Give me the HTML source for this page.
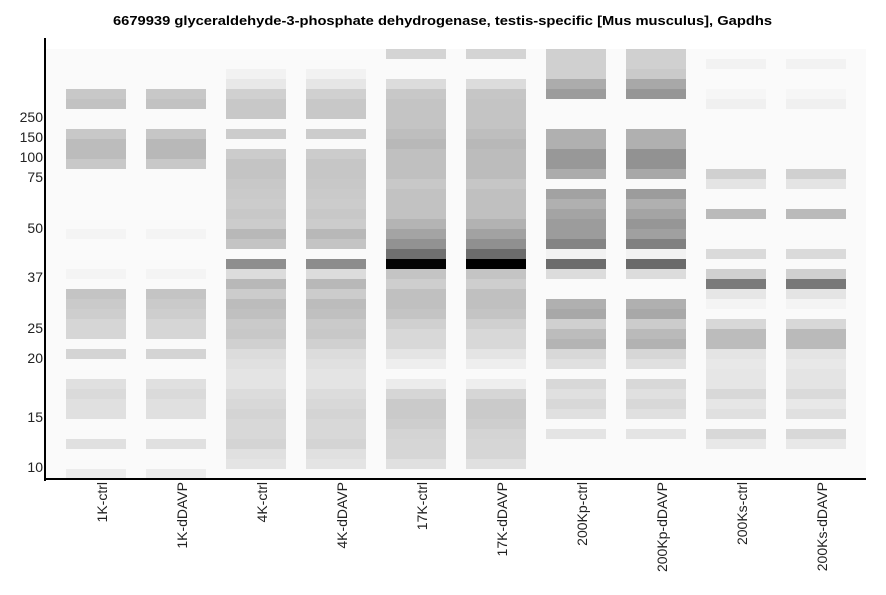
<!DOCTYPE html>
<html>
<head>
<meta charset="utf-8">
<style>
html,body{margin:0;padding:0;background:#fff;}
svg{display:block;}
text{font-family:"Liberation Sans",Arial,sans-serif;}
</style>
</head>
<body>
<svg width="886" height="595" viewBox="0 0 886 595" xmlns="http://www.w3.org/2000/svg">
<rect x="0" y="0" width="886" height="595" fill="#ffffff"/>
<text x="442.5" y="25" text-anchor="middle" font-size="13" font-weight="bold" fill="#000" textLength="659" lengthAdjust="spacingAndGlyphs">6679939 glyceraldehyde-3-phosphate dehydrogenase, testis-specific [Mus musculus], Gapdhs</text>
<rect x="46" y="49" width="820" height="430" fill="#fafafa"/>

<!-- Lane 1: 1K-ctrl -->
<g transform="translate(66,0)">
<rect y="89" width="60" height="10" fill="#c8c8c8"/>
<rect y="99" width="60" height="10" fill="#c2c2c2"/>
<rect y="129" width="60" height="10" fill="#c8c8c8"/>
<rect y="139" width="60" height="20" fill="#bcbcbc"/>
<rect y="159" width="60" height="10" fill="#c8c8c8"/>
<rect y="229" width="60" height="10" fill="#f4f4f4"/>
<rect y="269" width="60" height="10" fill="#f4f4f4"/>
<rect y="289" width="60" height="10" fill="#c4c4c4"/>
<rect y="299" width="60" height="10" fill="#cacaca"/>
<rect y="309" width="60" height="10" fill="#cecece"/>
<rect y="319" width="60" height="20" fill="#d6d6d6"/>
<rect y="349" width="60" height="10" fill="#d4d4d4"/>
<rect y="379" width="60" height="10" fill="#e0e0e0"/>
<rect y="389" width="60" height="10" fill="#dadada"/>
<rect y="399" width="60" height="20" fill="#e0e0e0"/>
<rect y="439" width="60" height="10" fill="#e0e0e0"/>
<rect y="469" width="60" height="10" fill="#ececec"/>
</g>
<!-- Lane 2: 1K-dDAVP -->
<g transform="translate(146,0)">
<rect y="89" width="60" height="10" fill="#c8c8c8"/>
<rect y="99" width="60" height="10" fill="#c2c2c2"/>
<rect y="129" width="60" height="10" fill="#c6c6c6"/>
<rect y="139" width="60" height="20" fill="#b8b8b8"/>
<rect y="159" width="60" height="10" fill="#c8c8c8"/>
<rect y="229" width="60" height="10" fill="#f4f4f4"/>
<rect y="269" width="60" height="10" fill="#f4f4f4"/>
<rect y="289" width="60" height="10" fill="#c4c4c4"/>
<rect y="299" width="60" height="10" fill="#cacaca"/>
<rect y="309" width="60" height="10" fill="#cecece"/>
<rect y="319" width="60" height="20" fill="#d6d6d6"/>
<rect y="349" width="60" height="10" fill="#d4d4d4"/>
<rect y="379" width="60" height="10" fill="#e0e0e0"/>
<rect y="389" width="60" height="10" fill="#dadada"/>
<rect y="399" width="60" height="20" fill="#e0e0e0"/>
<rect y="439" width="60" height="10" fill="#e0e0e0"/>
<rect y="469" width="60" height="10" fill="#ececec"/>
</g>

<!-- Lane 3: 4K-ctrl -->
<g transform="translate(226,0)">
<rect y="69" width="60" height="10" fill="#f2f2f2"/>
<rect y="79" width="60" height="10" fill="#e8e8e8"/>
<rect y="89" width="60" height="10" fill="#d0d0d0"/>
<rect y="99" width="60" height="20" fill="#c8c8c8"/>
<rect y="129" width="60" height="10" fill="#cccccc"/>
<rect y="149" width="60" height="10" fill="#cccccc"/>
<rect y="159" width="60" height="20" fill="#c4c4c4"/>
<rect y="179" width="60" height="10" fill="#c8c8c8"/>
<rect y="189" width="60" height="10" fill="#cacaca"/>
<rect y="199" width="60" height="10" fill="#cccccc"/>
<rect y="209" width="60" height="10" fill="#c8c8c8"/>
<rect y="219" width="60" height="10" fill="#cccccc"/>
<rect y="229" width="60" height="10" fill="#b8b8b8"/>
<rect y="239" width="60" height="10" fill="#c4c4c4"/>
<rect y="259" width="60" height="10" fill="#8e8e8e"/>
<rect y="269" width="60" height="10" fill="#dcdcdc"/>
<rect y="279" width="60" height="10" fill="#b8b8b8"/>
<rect y="289" width="60" height="10" fill="#cccccc"/>
<rect y="299" width="60" height="10" fill="#bcbcbc"/>
<rect y="309" width="60" height="10" fill="#c0c0c0"/>
<rect y="319" width="60" height="10" fill="#cacaca"/>
<rect y="329" width="60" height="10" fill="#c8c8c8"/>
<rect y="339" width="60" height="10" fill="#d0d0d0"/>
<rect y="349" width="60" height="10" fill="#dcdcdc"/>
<rect y="359" width="60" height="10" fill="#e0e0e0"/>
<rect y="369" width="60" height="20" fill="#e4e4e4"/>
<rect y="389" width="60" height="10" fill="#dcdcdc"/>
<rect y="399" width="60" height="10" fill="#d8d8d8"/>
<rect y="409" width="60" height="10" fill="#d4d4d4"/>
<rect y="419" width="60" height="20" fill="#d8d8d8"/>
<rect y="439" width="60" height="10" fill="#d4d4d4"/>
<rect y="449" width="60" height="10" fill="#e0e0e0"/>
<rect y="459" width="60" height="10" fill="#e4e4e4"/>
</g>
<!-- Lane 4: 4K-dDAVP -->
<g transform="translate(306,0)">
<rect y="69" width="60" height="10" fill="#f2f2f2"/>
<rect y="79" width="60" height="10" fill="#e6e6e6"/>
<rect y="89" width="60" height="10" fill="#d0d0d0"/>
<rect y="99" width="60" height="20" fill="#c8c8c8"/>
<rect y="129" width="60" height="10" fill="#cccccc"/>
<rect y="149" width="60" height="10" fill="#cccccc"/>
<rect y="159" width="60" height="20" fill="#c6c6c6"/>
<rect y="179" width="60" height="10" fill="#c8c8c8"/>
<rect y="189" width="60" height="10" fill="#cacaca"/>
<rect y="199" width="60" height="10" fill="#cccccc"/>
<rect y="209" width="60" height="10" fill="#c8c8c8"/>
<rect y="219" width="60" height="10" fill="#cccccc"/>
<rect y="229" width="60" height="10" fill="#b8b8b8"/>
<rect y="239" width="60" height="10" fill="#c4c4c4"/>
<rect y="259" width="60" height="10" fill="#8c8c8c"/>
<rect y="269" width="60" height="10" fill="#dcdcdc"/>
<rect y="279" width="60" height="10" fill="#b8b8b8"/>
<rect y="289" width="60" height="10" fill="#cccccc"/>
<rect y="299" width="60" height="10" fill="#bcbcbc"/>
<rect y="309" width="60" height="10" fill="#c0c0c0"/>
<rect y="319" width="60" height="10" fill="#cacaca"/>
<rect y="329" width="60" height="10" fill="#c8c8c8"/>
<rect y="339" width="60" height="10" fill="#d0d0d0"/>
<rect y="349" width="60" height="10" fill="#dcdcdc"/>
<rect y="359" width="60" height="10" fill="#e0e0e0"/>
<rect y="369" width="60" height="20" fill="#e4e4e4"/>
<rect y="389" width="60" height="10" fill="#dcdcdc"/>
<rect y="399" width="60" height="10" fill="#d8d8d8"/>
<rect y="409" width="60" height="10" fill="#d4d4d4"/>
<rect y="419" width="60" height="20" fill="#d8d8d8"/>
<rect y="439" width="60" height="10" fill="#d4d4d4"/>
<rect y="449" width="60" height="10" fill="#e0e0e0"/>
<rect y="459" width="60" height="10" fill="#e4e4e4"/>
</g>

<!-- Lane 5: 17K-ctrl -->
<g transform="translate(386,0)">
<rect y="49" width="60" height="10" fill="#d4d4d4"/>
<rect y="79" width="60" height="10" fill="#dcdcdc"/>
<rect y="89" width="60" height="10" fill="#c8c8c8"/>
<rect y="99" width="60" height="30" fill="#c4c4c4"/>
<rect y="129" width="60" height="10" fill="#bebebe"/>
<rect y="139" width="60" height="10" fill="#b8b8b8"/>
<rect y="149" width="60" height="30" fill="#c0c0c0"/>
<rect y="179" width="60" height="10" fill="#c8c8c8"/>
<rect y="189" width="60" height="30" fill="#c2c2c2"/>
<rect y="219" width="60" height="10" fill="#b4b4b4"/>
<rect y="229" width="60" height="10" fill="#a4a4a4"/>
<rect y="239" width="60" height="10" fill="#929292"/>
<rect y="249" width="60" height="10" fill="#707070"/>
<rect y="259" width="60" height="10" fill="#040404"/>
<rect y="269" width="60" height="10" fill="#c4c4c4"/>
<rect y="279" width="60" height="10" fill="#cecece"/>
<rect y="289" width="60" height="20" fill="#c0c0c0"/>
<rect y="309" width="60" height="10" fill="#c4c4c4"/>
<rect y="319" width="60" height="10" fill="#d0d0d0"/>
<rect y="329" width="60" height="20" fill="#d8d8d8"/>
<rect y="349" width="60" height="10" fill="#e4e4e4"/>
<rect y="359" width="60" height="10" fill="#eeeeee"/>
<rect y="379" width="60" height="10" fill="#ececec"/>
<rect y="389" width="60" height="10" fill="#d6d6d6"/>
<rect y="399" width="60" height="20" fill="#cacaca"/>
<rect y="419" width="60" height="10" fill="#cecece"/>
<rect y="429" width="60" height="10" fill="#d4d4d4"/>
<rect y="439" width="60" height="20" fill="#d6d6d6"/>
<rect y="459" width="60" height="10" fill="#e0e0e0"/>
</g>
<!-- Lane 6: 17K-dDAVP -->
<g transform="translate(466,0)">
<rect y="49" width="60" height="10" fill="#d4d4d4"/>
<rect y="79" width="60" height="10" fill="#dcdcdc"/>
<rect y="89" width="60" height="10" fill="#c6c6c6"/>
<rect y="99" width="60" height="30" fill="#c4c4c4"/>
<rect y="129" width="60" height="10" fill="#bebebe"/>
<rect y="139" width="60" height="10" fill="#b8b8b8"/>
<rect y="149" width="60" height="30" fill="#bcbcbc"/>
<rect y="179" width="60" height="10" fill="#c6c6c6"/>
<rect y="189" width="60" height="30" fill="#c0c0c0"/>
<rect y="219" width="60" height="10" fill="#b2b2b2"/>
<rect y="229" width="60" height="10" fill="#a2a2a2"/>
<rect y="239" width="60" height="10" fill="#909090"/>
<rect y="249" width="60" height="10" fill="#6c6c6c"/>
<rect y="259" width="60" height="10" fill="#000000"/>
<rect y="269" width="60" height="10" fill="#c4c4c4"/>
<rect y="279" width="60" height="10" fill="#cecece"/>
<rect y="289" width="60" height="20" fill="#c0c0c0"/>
<rect y="309" width="60" height="10" fill="#c4c4c4"/>
<rect y="319" width="60" height="10" fill="#d0d0d0"/>
<rect y="329" width="60" height="20" fill="#d8d8d8"/>
<rect y="349" width="60" height="10" fill="#e4e4e4"/>
<rect y="359" width="60" height="10" fill="#eeeeee"/>
<rect y="379" width="60" height="10" fill="#eeeeee"/>
<rect y="389" width="60" height="10" fill="#d6d6d6"/>
<rect y="399" width="60" height="20" fill="#cacaca"/>
<rect y="419" width="60" height="10" fill="#cecece"/>
<rect y="429" width="60" height="10" fill="#d4d4d4"/>
<rect y="439" width="60" height="20" fill="#d6d6d6"/>
<rect y="459" width="60" height="10" fill="#e0e0e0"/>
</g>

<!-- Lane 7: 200Kp-ctrl -->
<g transform="translate(546,0)">
<rect y="49" width="60" height="30" fill="#d0d0d0"/>
<rect y="79" width="60" height="10" fill="#acacac"/>
<rect y="89" width="60" height="10" fill="#9c9c9c"/>
<rect y="129" width="60" height="20" fill="#b0b0b0"/>
<rect y="149" width="60" height="20" fill="#989898"/>
<rect y="169" width="60" height="10" fill="#acacac"/>
<rect y="189" width="60" height="10" fill="#a2a2a2"/>
<rect y="199" width="60" height="10" fill="#b0b0b0"/>
<rect y="209" width="60" height="10" fill="#a4a4a4"/>
<rect y="219" width="60" height="20" fill="#9c9c9c"/>
<rect y="239" width="60" height="10" fill="#848484"/>
<rect y="249" width="60" height="10" fill="#f2f2f2"/>
<rect y="259" width="60" height="10" fill="#6c6c6c"/>
<rect y="269" width="60" height="10" fill="#dcdcdc"/>
<rect y="299" width="60" height="10" fill="#b0b0b0"/>
<rect y="309" width="60" height="10" fill="#a8a8a8"/>
<rect y="319" width="60" height="10" fill="#d0d0d0"/>
<rect y="329" width="60" height="10" fill="#bcbcbc"/>
<rect y="339" width="60" height="10" fill="#b4b4b4"/>
<rect y="349" width="60" height="10" fill="#d8d8d8"/>
<rect y="359" width="60" height="10" fill="#e0e0e0"/>
<rect y="379" width="60" height="10" fill="#d8d8d8"/>
<rect y="389" width="60" height="10" fill="#e0e0e0"/>
<rect y="399" width="60" height="10" fill="#d8d8d8"/>
<rect y="409" width="60" height="10" fill="#e0e0e0"/>
<rect y="429" width="60" height="10" fill="#e4e4e4"/>
</g>
<!-- Lane 8: 200Kp-dDAVP -->
<g transform="translate(626,0)">
<rect y="49" width="60" height="20" fill="#d0d0d0"/>
<rect y="69" width="60" height="10" fill="#cacaca"/>
<rect y="79" width="60" height="10" fill="#a8a8a8"/>
<rect y="89" width="60" height="10" fill="#969696"/>
<rect y="129" width="60" height="20" fill="#b0b0b0"/>
<rect y="149" width="60" height="20" fill="#929292"/>
<rect y="169" width="60" height="10" fill="#a8a8a8"/>
<rect y="189" width="60" height="10" fill="#9c9c9c"/>
<rect y="199" width="60" height="10" fill="#b0b0b0"/>
<rect y="209" width="60" height="10" fill="#a4a4a4"/>
<rect y="219" width="60" height="10" fill="#969696"/>
<rect y="229" width="60" height="10" fill="#a0a0a0"/>
<rect y="239" width="60" height="10" fill="#808080"/>
<rect y="249" width="60" height="10" fill="#f2f2f2"/>
<rect y="259" width="60" height="10" fill="#6a6a6a"/>
<rect y="269" width="60" height="10" fill="#dcdcdc"/>
<rect y="299" width="60" height="10" fill="#b0b0b0"/>
<rect y="309" width="60" height="10" fill="#a8a8a8"/>
<rect y="319" width="60" height="10" fill="#cccccc"/>
<rect y="329" width="60" height="10" fill="#bababa"/>
<rect y="339" width="60" height="10" fill="#b2b2b2"/>
<rect y="349" width="60" height="10" fill="#d6d6d6"/>
<rect y="359" width="60" height="10" fill="#e0e0e0"/>
<rect y="379" width="60" height="10" fill="#d8d8d8"/>
<rect y="389" width="60" height="10" fill="#e0e0e0"/>
<rect y="399" width="60" height="10" fill="#d8d8d8"/>
<rect y="409" width="60" height="10" fill="#e0e0e0"/>
<rect y="429" width="60" height="10" fill="#e4e4e4"/>
</g>

<!-- Lane 9: 200Ks-ctrl -->
<g transform="translate(706,0)">
<rect y="59" width="60" height="10" fill="#f2f2f2"/>
<rect y="89" width="60" height="10" fill="#f6f6f6"/>
<rect y="99" width="60" height="10" fill="#f0f0f0"/>
<rect y="169" width="60" height="10" fill="#d0d0d0"/>
<rect y="179" width="60" height="10" fill="#e4e4e4"/>
<rect y="209" width="60" height="10" fill="#bababa"/>
<rect y="249" width="60" height="10" fill="#dadada"/>
<rect y="269" width="60" height="10" fill="#d0d0d0"/>
<rect y="279" width="60" height="10" fill="#7a7a7a"/>
<rect y="289" width="60" height="10" fill="#e6e6e6"/>
<rect y="299" width="60" height="10" fill="#f4f4f4"/>
<rect y="319" width="60" height="10" fill="#d8d8d8"/>
<rect y="329" width="60" height="20" fill="#bcbcbc"/>
<rect y="349" width="60" height="10" fill="#e4e4e4"/>
<rect y="359" width="60" height="10" fill="#e8e8e8"/>
<rect y="369" width="60" height="20" fill="#e6e6e6"/>
<rect y="389" width="60" height="10" fill="#d8d8d8"/>
<rect y="399" width="60" height="10" fill="#e6e6e6"/>
<rect y="409" width="60" height="10" fill="#e0e0e0"/>
<rect y="429" width="60" height="10" fill="#d8d8d8"/>
<rect y="439" width="60" height="10" fill="#e8e8e8"/>
</g>
<!-- Lane 10: 200Ks-dDAVP -->
<g transform="translate(786,0)">
<rect y="59" width="60" height="10" fill="#f2f2f2"/>
<rect y="89" width="60" height="10" fill="#f6f6f6"/>
<rect y="99" width="60" height="10" fill="#f0f0f0"/>
<rect y="169" width="60" height="10" fill="#d0d0d0"/>
<rect y="179" width="60" height="10" fill="#e4e4e4"/>
<rect y="209" width="60" height="10" fill="#bababa"/>
<rect y="249" width="60" height="10" fill="#dadada"/>
<rect y="269" width="60" height="10" fill="#d0d0d0"/>
<rect y="279" width="60" height="10" fill="#787878"/>
<rect y="289" width="60" height="10" fill="#e4e4e4"/>
<rect y="299" width="60" height="10" fill="#f4f4f4"/>
<rect y="319" width="60" height="10" fill="#d8d8d8"/>
<rect y="329" width="60" height="20" fill="#bababa"/>
<rect y="349" width="60" height="10" fill="#e4e4e4"/>
<rect y="359" width="60" height="10" fill="#e8e8e8"/>
<rect y="369" width="60" height="20" fill="#e4e4e4"/>
<rect y="389" width="60" height="10" fill="#dadada"/>
<rect y="399" width="60" height="10" fill="#e8e8e8"/>
<rect y="409" width="60" height="10" fill="#e0e0e0"/>
<rect y="429" width="60" height="10" fill="#d8d8d8"/>
<rect y="439" width="60" height="10" fill="#e8e8e8"/>
</g>

<!-- Axes -->
<rect x="44" y="38" width="2" height="443" fill="#000"/>
<rect x="44" y="478" width="822" height="2" fill="#000"/>

<!-- Y tick labels -->
<g font-size="14" fill="#222" text-anchor="end">
<text x="43" y="122">250</text>
<text x="43" y="142">150</text>
<text x="43" y="162">100</text>
<text x="43" y="182">75</text>
<text x="43" y="233">50</text>
<text x="43" y="282">37</text>
<text x="43" y="333">25</text>
<text x="43" y="363">20</text>
<text x="43" y="422">15</text>
<text x="43" y="472">10</text>
</g>

<!-- X labels -->
<g font-size="14" fill="#222" text-anchor="end">
<text transform="translate(107,482) rotate(-90)">1K-ctrl</text>
<text transform="translate(187,482) rotate(-90)">1K-dDAVP</text>
<text transform="translate(267,482) rotate(-90)">4K-ctrl</text>
<text transform="translate(347,482) rotate(-90)">4K-dDAVP</text>
<text transform="translate(427,482) rotate(-90)">17K-ctrl</text>
<text transform="translate(507,482) rotate(-90)">17K-dDAVP</text>
<text transform="translate(587,482) rotate(-90)">200Kp-ctrl</text>
<text transform="translate(667,482) rotate(-90)">200Kp-dDAVP</text>
<text transform="translate(747,482) rotate(-90)">200Ks-ctrl</text>
<text transform="translate(827,482) rotate(-90)">200Ks-dDAVP</text>
</g>
</svg>
</body>
</html>
